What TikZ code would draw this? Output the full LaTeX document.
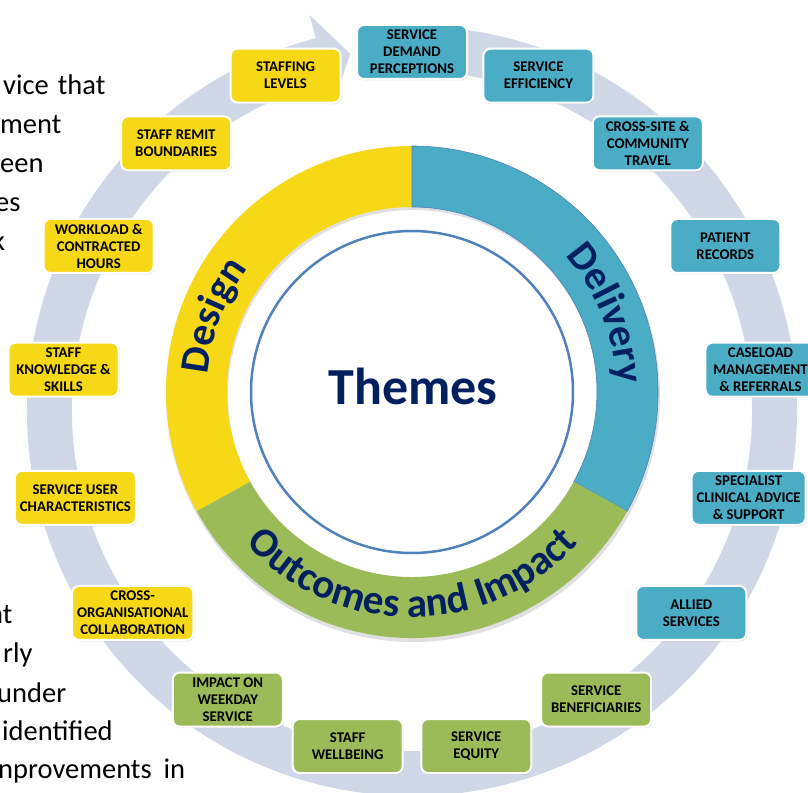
\documentclass[tikz,border=0pt]{standalone}
\usepackage{fontspec}
\setmainfont{Carlito}
\usepackage{tikz}
\usetikzlibrary{shadows}
\usetikzlibrary{decorations.text}

\definecolor{themeyellow}{RGB}{247,216,22}
\definecolor{themeblue}{RGB}{75,172,198}
\definecolor{themegreen}{RGB}{155,187,89}
\definecolor{themenavy}{RGB}{0,32,96}
\definecolor{cyclegrey}{RGB}{208,216,232}
\definecolor{circleblue}{RGB}{79,129,189}

\newcommand{\ringfont}{\color{themenavy}\bfseries\fontsize{41}{41}\selectfont}

\tikzset{
  themebox/.style={shape=rectangle,rounded corners=7pt,draw=white,line width=2pt,
    minimum width=110pt,minimum height=54pt,inner xsep=5pt,align=center,
    font=\bfseries\fontsize{14.8}{17}\selectfont,
    drop shadow={shadow xshift=1pt,shadow yshift=-1.5pt,opacity=0.2}},
  bodytext/.style={anchor=base west,inner sep=0pt,font=\fontsize{28.5}{28.5}\selectfont}
}

\begin{document}
\begin{tikzpicture}[x=1pt,y=1pt]
    \useasboundingbox (-412,-390) rectangle (396,402);
    % grey cycle arrow behind the boxes
    \fill[cyclegrey,shift={(0,-9)}] (85:385) arc (85:-255.5:385) -- (-255.5:409) -- (-260.2:362.5)
        -- (-255.5:316) -- (-255.5:340) arc (-255.5:85:340) -- cycle;
    % ring of the three themes
    \fill[black,opacity=0.12,even odd rule,shift={(1,7)}] (0,0) circle (247) (0,0) circle (185);
    \fill[themeyellow,shift={(0,10)}] (90:246) arc (90:209:246) -- (209:185) arc (209:90:185) -- cycle;
    \fill[themeblue,draw=circleblue,line width=0.6pt,shift={(0,10)}] (-29:246) arc (-29:90:246) -- (90:185) arc (90:-29:185) -- cycle;
    \fill[themegreen,shift={(0,10)}] (209:246) arc (209:331:246) -- (331:185) arc (331:209:185) -- cycle;
    \draw[circleblue,line width=2.5pt] (0,10) circle (161);
    \node (themes) at (1,-3) [anchor=base,font=\bfseries\fontsize{52}{52}\selectfont,text=themenavy] {Themes};
    \path[shift={(0,10)},decorate,decoration={text along path,text align=center,text={|\ringfont|Design}}]
        (199:205) arc (199:119:205);
    \path[shift={(0,10)},decorate,decoration={text along path,text align=center,text={|\ringfont|Delivery}}]
        (62:205) arc (62:-18:205);
    \path[shift={(0,10)},decorate,decoration={text along path,text align=center,text={|\ringfont|Outcomes and Impact}}]
        (200:225) arc (200:340:225);
    % the 17 boxes, clockwise from the top
    \foreach \i/\c/\t in {1/themeblue/{SERVICE\\DEMAND\\PERCEPTIONS},
        2/themeblue/{SERVICE\\EFFICIENCY},
        3/themeblue/{CROSS-SITE \&\\COMMUNITY\\TRAVEL},
        4/themeblue/{PATIENT\\RECORDS},
        5/themeblue/{CASELOAD\\MANAGEMENT\\\& REFERRALS},
        6/themeblue/{SPECIALIST\\CLINICAL ADVICE\\\& SUPPORT},
        7/themeblue/{ALLIED\\SERVICES},
        8/themegreen/{SERVICE\\BENEFICIARIES},
        9/themegreen/{SERVICE\\EQUITY},
        10/themegreen/{STAFF\\WELLBEING},
        11/themegreen/{IMPACT ON\\WEEKDAY\\SERVICE},
        12/themeyellow/{CROSS-\\ORGANISATIONAL\\COLLABORATION},
        13/themeyellow/{SERVICE USER\\CHARACTERISTICS},
        14/themeyellow/{STAFF\\KNOWLEDGE \&\\SKILLS},
        15/themeyellow/{WORKLOAD \&\\CONTRACTED\\HOURS},
        16/themeyellow/{STAFF REMIT\\BOUNDARIES},
        17/themeyellow/{STAFFING\\LEVELS}}
    {
        \pgfmathsetmacro{\a}{90-(\i-1)*360/17}
        \node (box\i) at (\a:350) [themebox,fill=\c] {\t};
    }
    % page text cut off at the left edge
    \node (line1) at (-409,307) [bodytext] {vice\hspace{9pt}that};
    \node (line2) at (-412,268) [bodytext] {ment};
    \node (line3) at (-412,229) [bodytext] {een};
    \node (line4) at (-417,190) [bodytext] {es};
    \node (line5) at (-420,151) [bodytext] {k};
    \node (line6) at (-424,-221) [bodytext] {nt};
    \node (line7) at (-409,-260) [bodytext] {rly};
    \node (line8) at (-415,-300) [bodytext] {under};
    \node (line9) at (-410,-338) [bodytext] {identified};
    \node (line10) at (-414,-376) [bodytext] {nprovements\hspace{12pt}in};
\end{tikzpicture}
\end{document}
